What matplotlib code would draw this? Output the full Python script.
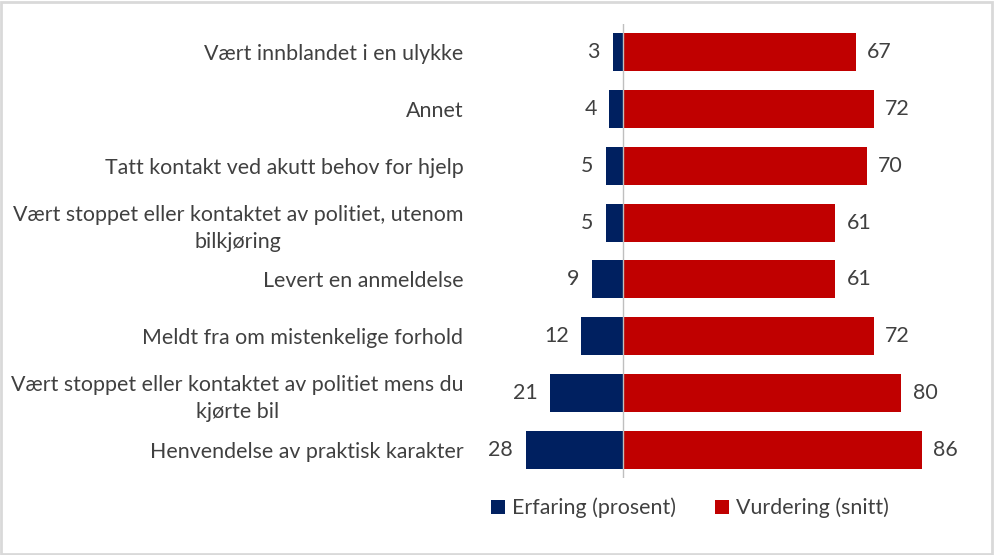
import matplotlib
matplotlib.use("Agg")
import matplotlib.pyplot as plt
from matplotlib.patches import Patch, Rectangle

categories = [
    "Vært innblandet i en ulykke",
    "Annet",
    "Tatt kontakt ved akutt behov for hjelp",
    "Vært stoppet eller kontaktet av politiet, utenom\nbilkjøring",
    "Levert en anmeldelse",
    "Meldt fra om mistenkelige forhold",
    "Vært stoppet eller kontaktet av politiet mens du\nkjørte bil",
    "Henvendelse av praktisk karakter",
]
erfaring = [3, 4, 5, 5, 9, 12, 21, 28]
vurdering = [67, 72, 70, 61, 61, 72, 80, 86]
series_names = ["Erfaring (prosent)", "Vurdering (snitt)"]

blue = "#002060"
red = "#C00000"
txt = "#404040"
font = "Lato"
fs = 15.4

W, H = 994, 555
fig = plt.figure(figsize=(W / 100, H / 100), dpi=100)
fig.patch.set_facecolor("white")
fig.add_artist(Rectangle((0.001, 0.002), 0.997, 0.995, transform=fig.transFigure,
                         fill=False, edgecolor="#D9D9D9", linewidth=2))

ax_l, ax_r, ax_t, ax_b = 480, 975, 24, 478
ax = fig.add_axes([ax_l / W, 1 - ax_b / H, (ax_r - ax_l) / W, (ax_b - ax_t) / H])

scale = 3.48
ax.set_xlim(-(623 - ax_l) / scale, (ax_r - 623) / scale)
ax.set_ylim(len(categories) - 0.5, -0.5)

y = list(range(len(categories)))
h = 0.67
ax.barh(y, [-v for v in erfaring], height=h, color=blue, label=series_names[0])
ax.barh(y, vurdering, height=h, color=red, label=series_names[1])

for yi, e, v in zip(y, erfaring, vurdering):
    ax.annotate(str(e), (-e, yi), xytext=(-9, 0), textcoords="offset points",
                ha="right", va="center", fontsize=fs, color=txt, family=font)
    ax.annotate(str(v), (v, yi), xytext=(8, 0), textcoords="offset points",
                ha="left", va="center", fontsize=fs, color=txt, family=font)

ax.axvline(0, color="#BFBFBF", linewidth=1)
for s in ax.spines.values():
    s.set_visible(False)
ax.set_xticks([])
ax.set_yticks(y)
ax.set_yticklabels(categories, fontsize=fs, color=txt, family=font,
                   multialignment="center", linespacing=1.45)
ax.tick_params(axis="y", length=0, pad=12)

handles = [Patch(facecolor=blue, label=series_names[0]), Patch(facecolor=red, label=series_names[1])]
leg = fig.legend(handles=handles, loc="center", bbox_to_anchor=(690 / W, 1 - 508 / H), ncol=2,
                 frameon=False, prop={"family": font, "size": fs}, handlelength=0.65,
                 handleheight=0.65, handletextpad=0.35, columnspacing=1.8)
for t in leg.get_texts():
    t.set_color(txt)

fig.savefig("out.png", dpi=100, facecolor="white")
